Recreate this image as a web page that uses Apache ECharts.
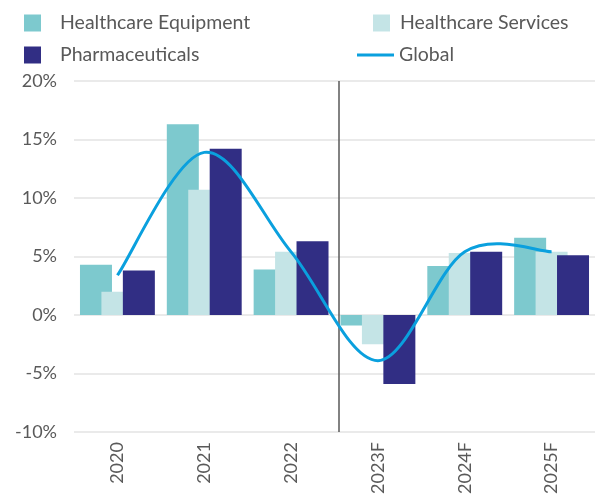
<!DOCTYPE html>
<html>
<head>
    <meta charset="utf-8">
    <title>Healthcare growth</title>
    <script src="https://cdn.jsdelivr.net/npm/echarts@6/dist/echarts.min.js"></script>
    <style>
        html, body { margin: 0; padding: 0; background: #fff; }
        #chart { width: 595px; height: 497px; }
    </style>
</head>
<body>
<div id="chart"></div>
<script>
    // values (percent)
    const years = ['2020', '2021', '2022', '2023F', '2024F', '2025F'];
    const equipment = [4.3, 16.3, 3.9, -0.9, 4.2, 6.6];
    const services = [2.0, 10.7, 5.4, -2.5, 5.3, 5.4];
    const pharma = [3.8, 14.2, 6.3, -5.9, 5.4, 5.1];
    const global = [3.4, 13.9, 5.4, -3.9, 5.4, 5.4];
    const forecastSplit = 2.55; // between 2022 and 2023F

    const textColor = '#595959';
    const font = 'Lato';
    const lineColor = '#0aa0de';

    function legendItem(name, left, top, icon, w, h, pad) {
        return {
            data: [name], left: left, top: top, icon: icon,
            itemWidth: w, itemHeight: h,
            textStyle: { color: textColor, fontFamily: font, fontSize: 19.5, padding: pad }
        };
    }

    // smooth curve through the points (catmull-rom style, like office charts)
    function renderGlobal(params, api) {
        if (params.dataIndex !== 0) return;
        const pts = global.map((v, i) => api.coord([i, v]));
        const n = pts.length;
        let d = 'M' + pts[0][0] + ',' + pts[0][1];
        for (let i = 0; i < n - 1; i++) {
            const p0 = pts[Math.max(i - 1, 0)], p1 = pts[i], p2 = pts[i + 1], p3 = pts[Math.min(i + 2, n - 1)];
            const c1x = p1[0] + (p2[0] - p0[0]) / 6, c1y = p1[1] + (p2[1] - p0[1]) / 6;
            const c2x = p2[0] - (p3[0] - p1[0]) / 6, c2y = p2[1] - (p3[1] - p1[1]) / 6;
            d += ' C' + c1x + ',' + c1y + ' ' + c2x + ',' + c2y + ' ' + p2[0] + ',' + p2[1];
        }
        return {
            type: 'path',
            shape: { pathData: d },
            style: { stroke: lineColor, lineWidth: 3, fill: null }
        };
    }

    const chart = echarts.init(document.getElementById('chart'));
    chart.setOption({
        animation: false,
        legend: [
            legendItem('Healthcare Equipment', 19, 8, 'rect', 17, 17, [0, 0, 0, 14]),
            legendItem('Pharmaceuticals', 19, 40, 'rect', 17, 17, [0, 0, 0, 14]),
            legendItem('Healthcare Services', 368, 8, 'rect', 17, 17, [0, 0, 0, 5]),
            legendItem('Global', 352, 40, 'rect', 37, 3, [0, 0, 10, 0])
        ],
        grid: { left: 74, right: -1, top: 81, bottom: 64, containLabel: false },
        xAxis: [{
            type: 'category',
            data: years,
            axisLine: { show: false },
            axisTick: { show: false },
            axisLabel: { rotate: 90, margin: 10, color: textColor, fontFamily: font, fontSize: 18 }
        }, {
            type: 'value', min: -0.5, max: 5.5, show: false
        }],
        yAxis: {
            type: 'value',
            min: -10, max: 20, interval: 5,
            axisLine: { show: false },
            axisTick: { show: false },
            axisLabel: { formatter: '{value}%', margin: 17, color: textColor, fontFamily: font, fontSize: 18 },
            splitLine: { lineStyle: { color: '#e3e3e3', width: 1.5 } }
        },
        series: [
            { name: 'Healthcare Equipment', type: 'bar', data: equipment, barWidth: 32, barGap: '-33%',
              itemStyle: { color: '#7dc9ce' } },
            { name: 'Healthcare Services', type: 'bar', data: services, barWidth: 32, barGap: '-33%',
              itemStyle: { color: '#c4e4e6' } },
            { name: 'Pharmaceuticals', type: 'bar', data: pharma, barWidth: 32, barGap: '-33%',
              itemStyle: { color: '#312e84' } },
            { name: 'Global', type: 'custom', renderItem: renderGlobal, z: 5,
              data: global.map((v, i) => [i, v]),
              encode: { x: 0, y: 1 },
              itemStyle: { color: lineColor } },
            { name: 'split', type: 'line', xAxisIndex: 1, data: [], symbol: 'none', silent: true,
              markLine: {
                  silent: true, symbol: 'none', label: { show: false },
                  lineStyle: { color: '#595959', width: 1.5, type: 'solid' },
                  data: [{ xAxis: forecastSplit }]
              } }
        ]
    });
</script>
</body>
</html>
